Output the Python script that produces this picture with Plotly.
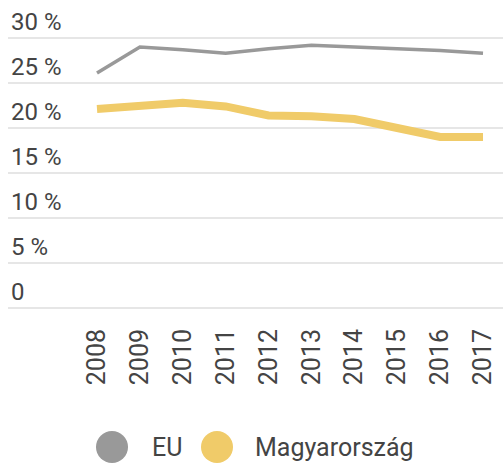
import plotly.graph_objects as go

years = [2008, 2009, 2010, 2011, 2012, 2013, 2014, 2015, 2016, 2017]
eu = [26.1, 29.0, 28.7, 28.3, 28.8, 29.2, 29.0, 28.8, 28.6, 28.3]
hu = [22.1, 22.4, 22.8, 22.4, 21.4, 21.3, 21.0, 20.0, 19.0, 19.0]
y_ticks = [0, 5, 10, 15, 20, 25, 30]
y_labels = ["0", "5 %", "10 %", "15 %", "20 %", "25 %", "30 %"]
series_names = ["EU", "Magyarország"]
series_colors = ["#999999", "#F0CB69"]

W, H = 503, 464
PL, PT, PB = 8, 7, 308          # plot area left / top / bottom (px)
PH = PB - PT
YMAX = 30 * PH / (PB - 38)      # 30 % gridline at y=38 px

fig = go.Figure()
fig.add_trace(go.Scatter(x=years, y=eu, mode="lines", name=series_names[0],
                         line=dict(color=series_colors[0], width=3.5), showlegend=False))
fig.add_trace(go.Scatter(x=years, y=hu, mode="lines", name=series_names[1],
                         line=dict(color=series_colors[1], width=8), showlegend=False))

font = dict(family="Roboto", size=24, color="#444444")
legend_font = dict(family="Roboto", size=25, color="#444444")

# custom legend (large circles)
legend_x = [112, 217]
text_x = [150, 253]
ly = 447
r = 16
def px(x):
    return (x - PL) / (W - PL)
def py(y):
    return (PB - y) / PH
for cx, tx, nm, col in zip(legend_x, text_x, series_names, series_colors):
    fig.add_shape(type="circle", xref="paper", yref="paper",
                  x0=px(cx - r), x1=px(cx + r), y0=py(ly + r), y1=py(ly - r),
                  fillcolor=col, line=dict(width=0))
    fig.add_annotation(text=nm, xref="paper", yref="paper",
                       x=px(tx), y=py(ly), xanchor="left", yanchor="middle",
                       showarrow=False, font=legend_font)

fig.update_layout(
    width=W, height=H,
    margin=dict(l=PL, r=0, t=PT, b=H - PB, pad=0),
    paper_bgcolor="white", plot_bgcolor="white",
    font=font,
    xaxis=dict(range=[2005.925, 2017.466], tickvals=years, ticktext=[str(y) for y in years],
               tickangle=-90, showgrid=False, zeroline=False, showline=False,
               ticks="outside", ticklen=10, tickcolor="rgba(0,0,0,0)",
               tickfont=dict(family="Roboto", size=25, color="#444444")),
    yaxis=dict(range=[0, YMAX], tickvals=y_ticks, ticktext=y_labels,
               ticklabelposition="inside top", showgrid=True, gridcolor="#e6e6e6",
               gridwidth=2, zeroline=True, zerolinecolor="#e6e6e6", zerolinewidth=2,
               showline=False, tickfont=font),
)
fig.write_html("out.html", config={"displayModeBar": False},
               post_script="document.body.style.margin='0';document.body.style.overflow='hidden';")
